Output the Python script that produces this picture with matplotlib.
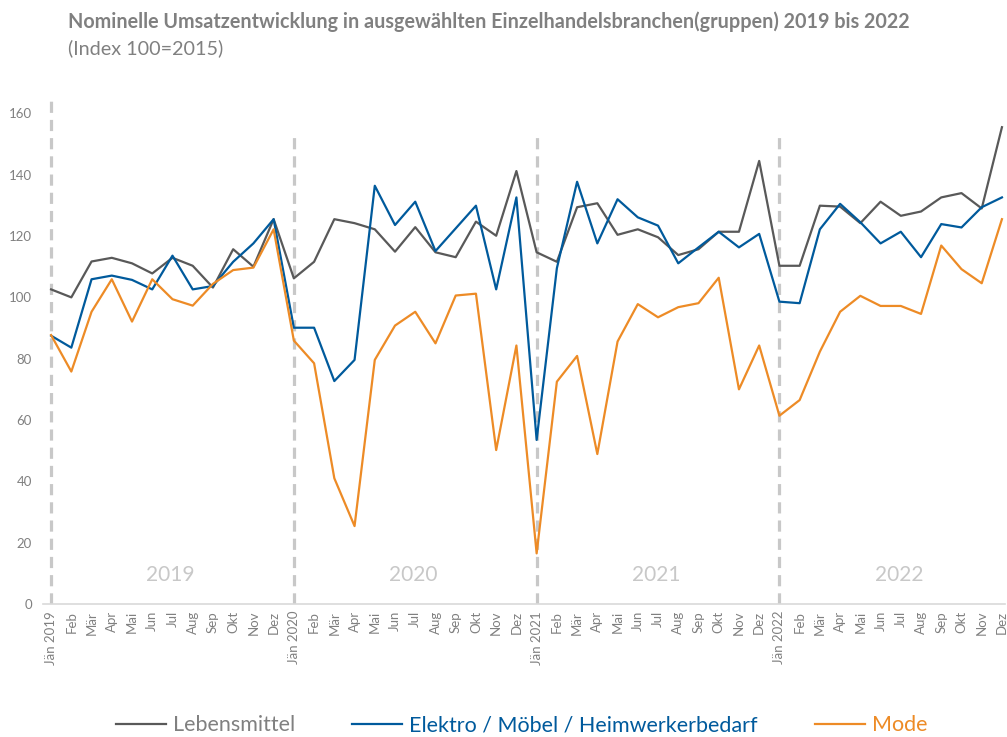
import matplotlib
matplotlib.use("Agg")
import matplotlib.pyplot as plt

plt.rcParams['font.family'] = ['Lato', 'DejaVu Sans']

months = ['Jän', 'Feb', 'Mär', 'Apr', 'Mai', 'Jun', 'Jul', 'Aug', 'Sep', 'Okt', 'Nov', 'Dez']
years = [2019, 2020, 2021, 2022]
labels = []
for y in years:
    for i, m in enumerate(months):
        labels.append(m + ' ' + str(y) if i == 0 else m)

lebensmittel = [102.6, 100.0, 111.7, 112.9, 111.1, 107.8, 112.9, 110.3, 103.2, 115.7, 110.0, 125.5,
                106.2, 111.6, 125.5, 124.2, 122.2, 114.9, 122.9, 114.7, 113.1, 124.7, 120.1, 141.2,
                114.7, 111.6, 129.4, 130.7, 120.4, 122.2, 119.6, 113.8, 115.7, 121.4, 121.4, 144.5,
                110.3, 110.3, 129.9, 129.6, 124.2, 131.2, 126.6, 128.0, 132.6, 134.0, 129.0, 155.5]
elektro = [87.5, 83.6, 105.9, 107.1, 105.7, 102.6, 113.6, 102.6, 103.7, 111.6, 117.6, 125.5,
           90.1, 90.1, 72.7, 79.6, 136.4, 123.6, 131.2, 115.1, 122.5, 129.9, 102.6, 132.6,
           53.5, 109.5, 137.7, 117.6, 132.0, 126.1, 123.4, 111.1, 116.3, 121.4, 116.3, 120.7,
           98.6, 98.1, 122.2, 130.5, 124.5, 117.6, 121.4, 113.1, 123.9, 122.8, 129.4, 132.6]
mode = [87.7, 75.8, 95.3, 105.9, 92.1, 105.9, 99.4, 97.3, 104.4, 108.9, 109.7, 122.2,
        85.9, 78.5, 41.0, 25.4, 79.6, 90.8, 95.3, 85.0, 100.6, 101.2, 50.2, 84.3,
        16.5, 72.5, 80.9, 48.9, 85.6, 97.8, 93.5, 96.8, 98.1, 106.4, 70.0, 84.3,
        61.4, 66.5, 82.3, 95.3, 100.5, 97.2, 97.2, 94.6, 116.9, 109.2, 104.6, 125.5]

c_grey = '#595959'
c_blue = '#005a9c'
c_orange = '#ed8b26'
c_text = '#808080'

fig = plt.figure(figsize=(10.07, 7.37), dpi=100)
ax = fig.add_axes([0.0427, 0.1805, 0.9553, 0.6906])

x = list(range(len(labels)))

# year separators
for k in range(len(years)):
    top = 166 if k == 0 else 153.6
    ax.plot([12 * k, 12 * k], [0, top], color='#c8c8c8', lw=2.3, dashes=(3.5, 2.2), zorder=1)
    ax.text(12 * k + 5.9, 9.5, str(years[k]), color='#c8c8c8', fontsize=15,
            ha='center', va='center')

l1, = ax.plot(x, lebensmittel, color=c_grey, lw=1.6, label='Lebensmittel', zorder=3)
l2, = ax.plot(x, elektro, color=c_blue, lw=1.6, label='Elektro / Möbel / Heimwerkerbedarf', zorder=3)
l3, = ax.plot(x, mode, color=c_orange, lw=1.6, label='Mode', zorder=3)

ax.set_xlim(-0.4, 47.15)
ax.set_ylim(0, 166)
ax.set_yticks(range(0, 161, 20))
ax.set_xticks(x)
ax.set_xticklabels(labels, rotation=90, fontsize=9.5, color=c_text)
ax.tick_params(axis='y', labelsize=9.5, colors=c_text, length=0, pad=8)
ax.tick_params(axis='x', length=0, pad=5)

for s in ['top', 'right', 'left']:
    ax.spines[s].set_visible(False)
ax.spines['bottom'].set_color('#d9d9d9')
ax.spines['bottom'].set_linewidth(1.2)

fig.text(0.0675, 0.97, 'Nominelle Umsatzentwicklung in ausgewählten Einzelhandelsbranchen(gruppen) 2019 bis 2022',
         fontsize=14.2, fontweight='bold', color=c_text, ha='left', va='center')
fig.text(0.0675, 0.934, '(Index 100=2015)', fontsize=14.2, color=c_text, ha='left', va='center')

# legend entries placed one by one like the original
for h, xpos, c in [(l1, 116, c_text), (l2, 352, c_blue), (l3, 815, c_orange)]:
    lg = fig.legend(handles=[h], loc='center left', bbox_to_anchor=(xpos / 1007, 0.016),
                    frameon=False, fontsize=15.5, handlelength=2.3, handletextpad=0.35,
                    borderpad=0, borderaxespad=0)
    lg.get_texts()[0].set_color(c)

fig.savefig('out.png', dpi=100)
